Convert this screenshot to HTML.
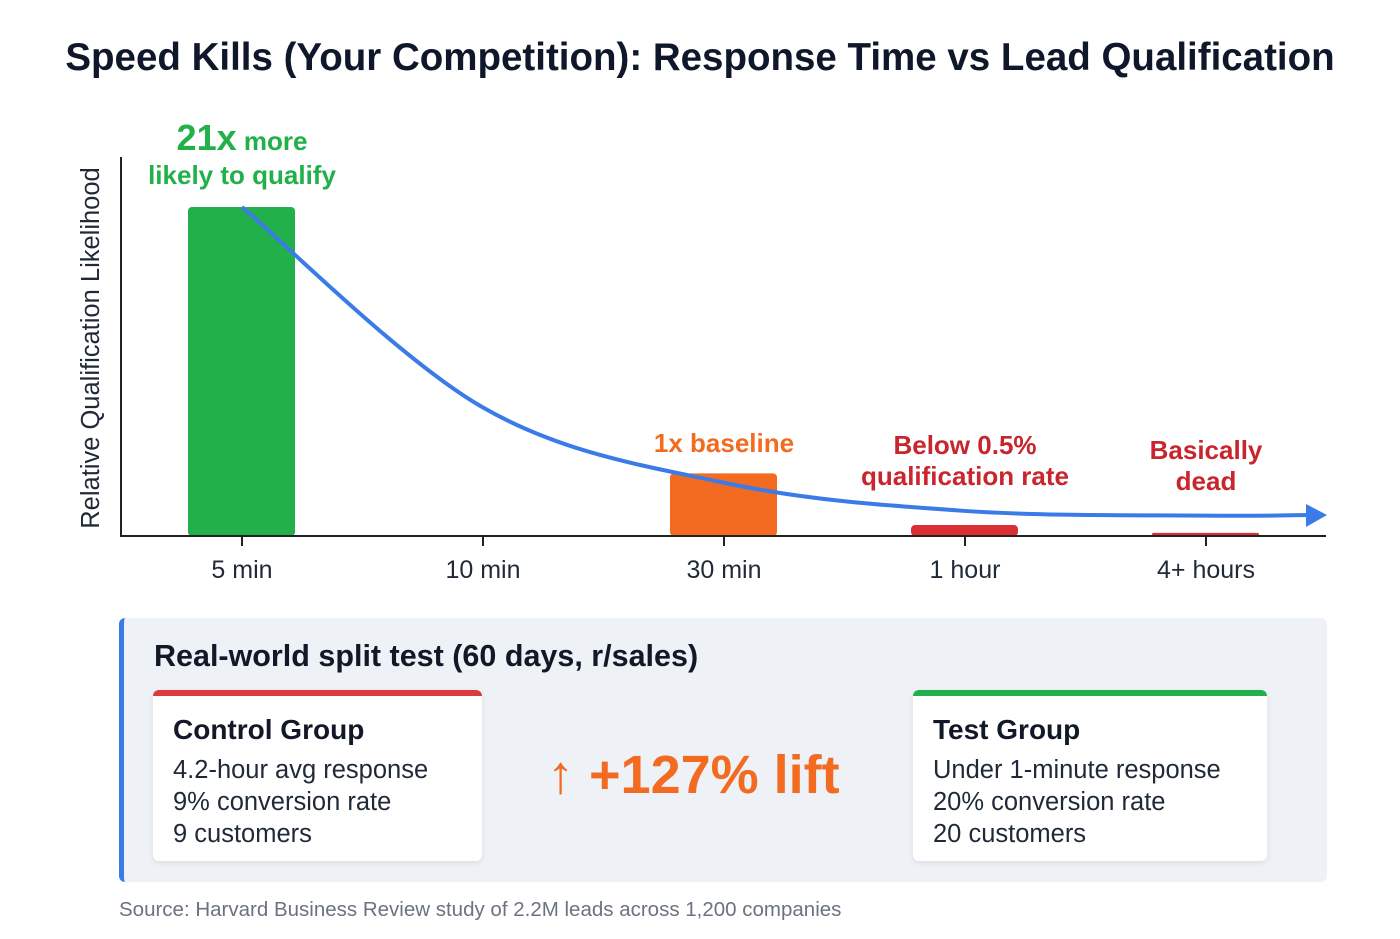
<!DOCTYPE html>
<html><head><meta charset="utf-8"><style>
body{margin:0;width:1400px;height:939px;background:#fff;font-family:"Liberation Sans","DejaVu Sans",sans-serif;position:relative;overflow:hidden;color:#111827}
.abs{position:absolute}
.card{position:absolute;background:#fff;border-radius:6px;box-shadow:0 2px 6px rgba(0,0,0,0.08);box-sizing:border-box;padding:18px 20px}
.card h3{margin:0 0 8px;font-size:28px;font-weight:bold;color:#111827}
.card div{font-size:25.5px;line-height:32px;color:#1f2937}
</style></head><body>
<div class="abs" style="left:0;width:1400px;top:36px;text-align:center;font-size:38.5px;font-weight:bold;color:#0f172a">Speed Kills (Your Competition): Response Time vs Lead Qualification</div>
<svg class="abs" style="left:0;top:0" width="1400" height="600">
<text transform="translate(99,348) rotate(-90)" text-anchor="middle" font-size="25.5" fill="#1f2937">Relative Qualification Likelihood</text>
<g id="g"></g>
</svg>
<script>
const categories=["5 min","10 min","30 min","1 hour","4+ hours"];
const values=[21,0,4,0.7,0.2];
const colors=["#22b04b","#22b04b","#f26b21","#dc2f35","#dc2f35"];
const curveValues=[21,8.2,3.4,1.6,1.3];
const NS="http://www.w3.org/2000/svg";
const g=document.getElementById('g');
const x0=121,x1=1326,base=536,step=241,scale=329/21;
const xs=i=>242+i*step, ys=v=>base-v*scale;
function mk(t,a){const e=document.createElementNS(NS,t);for(const k in a)e.setAttribute(k,a[k]);g.appendChild(e);return e;}
categories.forEach((c,i)=>{
 const h=values[i]*scale;
 if(h>0){const r=mk('rect',{x:xs(i)-54,y:base-h,width:107,height:h,rx:Math.min(4,h/2),fill:colors[i]});
 
 }
 const t=mk('line',{x1:xs(i),x2:xs(i),y1:base,y2:base+10,stroke:'#222','stroke-width':2});
 const l=mk('text',{x:xs(i),y:base+42,'text-anchor':'middle','font-size':25,fill:'#1f2937'});l.textContent=c;
 
 
});
const ax=mk('path',{d:`M${x0},157 V${base} H${x1}`,fill:'none',stroke:'#222','stroke-width':2});


const pts=curveValues.map((v,i)=>[xs(i),ys(v)]);
pts.push([1318,ys(1.35)]);
let d=`M${pts[0][0]},${pts[0][1]}`;
for(let i=0;i<pts.length-1;i++){const p0=pts[Math.max(0,i-1)],p1=pts[i],p2=pts[i+1],p3=pts[Math.min(pts.length-1,i+2)];
 d+=` C${p1[0]+(p2[0]-p0[0])/6},${p1[1]+(p2[1]-p0[1])/6} ${p2[0]-(p3[0]-p1[0])/6},${p2[1]-(p3[1]-p1[1])/6} ${p2[0]},${p2[1]}`;}
const cv=mk('path',{d:d,fill:'none',stroke:'#3b7be8','stroke-width':4});


const ar=mk('path',{d:'M1306,504 L1327,515 L1306,527 Z',fill:'#3b7be8'});


function lab(x,y,txt,col,sz,name){const t=mk('text',{x:x,y:y,'text-anchor':'middle','font-size':sz,'font-weight':'bold',fill:col});t.innerHTML=txt;
 
 }
lab(242,150,'<tspan font-size="36">21x</tspan> more','#22b04b',26,'annotation-21x');
lab(242,184,'likely to qualify','#22b04b',26,'annotation-21x-line2');
lab(724,452,'1x baseline','#f26b21',26,'annotation-baseline');
lab(965,454,'Below 0.5%','#c8262c',26,'annotation-below');
lab(965,485,'qualification rate','#c8262c',26,'annotation-below-line2');
lab(1206,459,'Basically','#c8262c',26,'annotation-dead');
lab(1206,490,'dead','#c8262c',26,'annotation-dead-line2');
</script>
<div class="abs" style="left:119px;top:618px;width:1208px;height:264px;background:#eef1f6;border-radius:6px;border-left:5px solid #3b7be8;box-sizing:border-box">
<div class="abs" style="left:30px;top:21px;font-size:30.5px;font-weight:bold;color:#111827">Real-world split test (60 days, r/sales)</div>
</div>
<div class="card" style="left:153px;top:690px;width:329px;height:171px;border-top:6px solid #dc3c41"><h3>Control Group</h3><div>4.2-hour avg response</div><div>9% conversion rate</div><div>9 customers</div></div>
<div class="card" style="left:913px;top:690px;width:354px;height:171px;border-top:6px solid #22b04b"><h3>Test Group</h3><div>Under 1-minute response</div><div>20% conversion rate</div><div>20 customers</div></div>
<div class="abs" style="left:547px;top:744px;font-size:54px;font-weight:bold;color:#f26b21">↑ +127% lift</div>
<div class="abs" style="left:119px;top:898px;font-size:20.5px;color:#6b7280">Source: Harvard Business Review study of 2.2M leads across 1,200 companies</div>
</body></html>
